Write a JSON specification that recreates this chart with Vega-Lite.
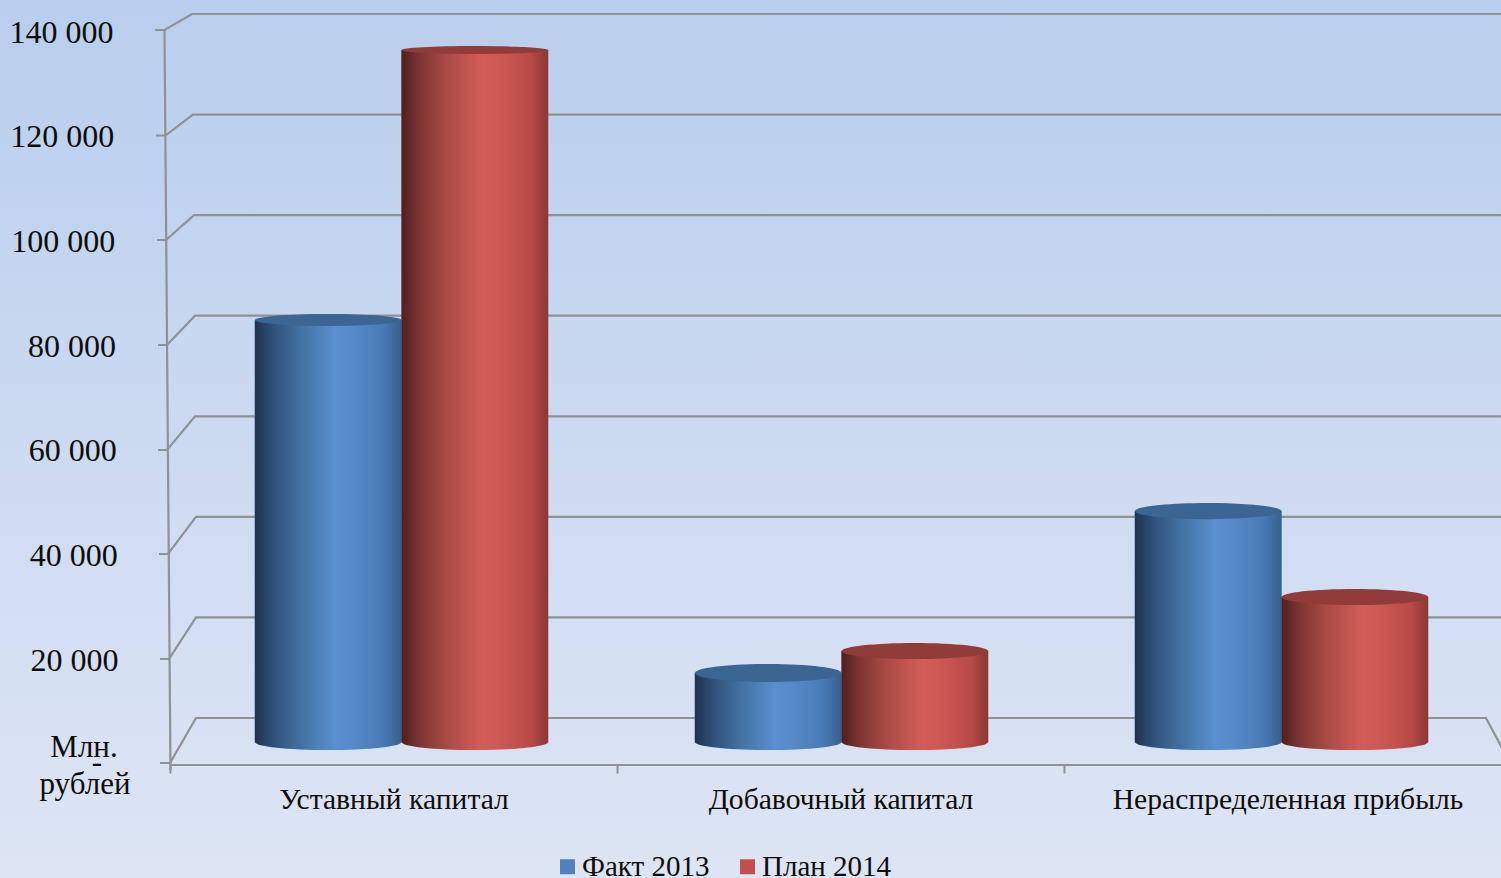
{
"$schema":"https://vega.github.io/schema/vega-lite/v6.json",
"width":1501,"height":878,"padding":0,"autosize":"none",
"background":"#dde5f4",
"config":{"view":{"stroke":null},"font":"Liberation Serif"},
"datasets":{
"bars":[
{"category":"Уставный капитал","series":"Факт 2013","value":82060,"top":"a"},
{"category":"Уставный капитал","series":"План 2014","value":134560,"top":"b"},
{"category":"Добавочный капитал","series":"Факт 2013","value":13400,"top":"c"},
{"category":"Добавочный капитал","series":"План 2014","value":17700,"top":"d"},
{"category":"Нераспределенная прибыль","series":"Факт 2013","value":44900,"top":"e"},
{"category":"Нераспределенная прибыль","series":"План 2014","value":28200,"top":"e"}
],
"frame":[
{"id":"g140","gx":-15,"wall":136815},{"id":"g140","gx":-5.5,"wall":136815},{"id":"g140","gx":22,"wall":140000},{"id":"g140","gx":1341,"wall":140000},
{"id":"g120","gx":-14,"wall":115837},{"id":"g120","gx":-4.5,"wall":115837},{"id":"g120","gx":23,"wall":120000},{"id":"g120","gx":1341,"wall":120000},
{"id":"g100","gx":-13,"wall":95055},{"id":"g100","gx":-4,"wall":95055},{"id":"g100","gx":24,"wall":100000},{"id":"g100","gx":1341,"wall":100000},
{"id":"g80","gx":-12,"wall":74175},{"id":"g80","gx":-3,"wall":74175},{"id":"g80","gx":25,"wall":80000},{"id":"g80","gx":1341,"wall":80000},
{"id":"g60","gx":-12,"wall":53295},{"id":"g60","gx":-3,"wall":53295},{"id":"g60","gx":25,"wall":60000},{"id":"g60","gx":1341,"wall":60000},
{"id":"g40","gx":-11,"wall":32613},{"id":"g40","gx":-2,"wall":32613},{"id":"g40","gx":26,"wall":40000},{"id":"g40","gx":1341,"wall":40000},
{"id":"g20","gx":-10,"wall":11733},{"id":"g20","gx":-1,"wall":11733},{"id":"g20","gx":26,"wall":20000},{"id":"g20","gx":1341,"wall":20000},
{"id":"g0","gx":-10,"wall":-8949},{"id":"g0","gx":0,"wall":-8949},{"id":"g0","gx":26,"wall":0},{"id":"g0","gx":1316,"wall":0},{"id":"g0","gx":1341,"wall":-9346},
{"id":"axis","gx":-5.5,"wall":136815},{"id":"axis","gx":0.5,"wall":-10341},
{"id":"front","gx":0,"wall":-9346},{"id":"front","gx":1341,"wall":-9346}
],
"notes":[
{"label":"Млн.","gx":-86,"wall":-7755},
{"label":"-","gx":-73,"wall":-10739},
{"label":"рублей","gx":-85,"wall":-15113}
]
},
"resolve":{"scale":{"x":"independent","y":"independent"}},
"layer":[
{"data":{"values":[{}]},
 "mark":{"type":"rect","color":{"gradient":"linear","x1":0,"y1":0,"x2":0,"y2":1,"stops":[{"offset":0,"color":"#b8ceec"},{"offset":0.5,"color":"#ccdaf1"},{"offset":1,"color":"#dde5f4"}]}},
 "encoding":{}},
{"data":{"name":"frame"},
 "mark":{"type":"line","color":"#8e9195","strokeWidth":2.2,"clip":true},
 "encoding":{
  "x":{"field":"gx","type":"quantitative","scale":{"domain":[0,1341],"range":[170,1511],"nice":false,"zero":false},"axis":null},
  "y":{"field":"wall","type":"quantitative","scale":{"domain":[0,140000],"range":[718,14],"nice":false,"zero":false},"axis":null},
  "detail":{"field":"id"}}},
{"data":{"name":"notes"},
 "mark":{"type":"text","fontSize":31,"color":"#0d0d0d","align":"center","baseline":"alphabetic","font":"Liberation Serif"},
 "encoding":{
  "x":{"field":"gx","type":"quantitative","scale":{"domain":[0,1341],"range":[170,1511],"nice":false,"zero":false},"axis":null},
  "y":{"field":"wall","type":"quantitative","scale":{"domain":[0,140000],"range":[718,14],"nice":false,"zero":false},"axis":null},
  "text":{"field":"label"}}},
{"data":{"name":"bars"},
 "mark":{"type":"point","opacity":0},
 "encoding":{
  "x":{"field":"category","type":"nominal","sort":null,"title":null,
   "scale":{"type":"band","domain":["Уставный капитал","Добавочный капитал","Нераспределенная прибыль"],"range":[170,1511],"paddingInner":0,"paddingOuter":0},
   "axis":{"orient":"bottom","offset":-113,"zindex":1,"domain":false,"tickBand":"extent","tickSize":8,"tickWidth":2,"tickColor":"#8e9195","labelAngle":0,"labelFontSize":29.6,"labelFont":"Liberation Serif","labelColor":"#0d0d0d","labelPadding":12,"labelLimit":0}},
  "y":{"field":"value","type":"quantitative","title":null,
   "scale":{"domain":[0,140000],"range":[765,32],"nice":false},
   "axis":{"orient":"left","offset":-113,"zindex":1,"domain":false,"ticks":false,"grid":false,"values":[20000,40000,60000,80000,100000,120000,140000],"labelExpr":"replace(format(datum.value,','),',',' ')","labelFontSize":32,"labelFont":"Liberation Serif","labelColor":"#0d0d0d","labelPadding":0,"labelLimit":0,"encoding":{"labels":{"dx":{"value":{"expr":"(140000-datum.value)/120000*5"}}}}}}}},
{"data":{"name":"bars"},
 "mark":{"type":"bar"},
 "encoding":{
  "x":{"field":"category","type":"nominal","sort":null,"scale":{"type":"band","domain":["Уставный капитал","Добавочный капитал","Нераспределенная прибыль"],"range":[181.5,1501.5],"paddingInner":0,"paddingOuter":0},"axis":null},
  "xOffset":{"field":"series","type":"nominal","scale":{"domain":["Факт 2013","План 2014"],"paddingInner":0,"paddingOuter":0.5}},
  "y":{"field":"value","type":"quantitative","stack":null,"scale":{"domain":[0,140000],"range":[742,22],"nice":false},"axis":null},
  "color":{"field":"series","type":"nominal","title":null,
   "scale":{"domain":["Факт 2013","План 2014"],"range":["#4f81bd","#c0504d"]},
   "legend":{"orient":"none","legendX":553,"legendY":852,"direction":"horizontal","columns":2,"padding":0,"symbolType":"square","symbolSize":225,"symbolStrokeWidth":0,"symbolOpacity":1,"labelFontSize":29,"labelFont":"Liberation Serif","labelColor":"#0d0d0d","labelOffset":0,"columnPadding":23,"labelLimit":0}}}},
{"data":{"name":"bars"},
 "transform":[{"filter":"datum.series=='Факт 2013'"}],
 "mark":{"type":"point","filled":true,"opacity":1,"strokeWidth":0,"shape":"M-1,0A1,0.11 0 1,1 1,0A1,0.11 0 1,1 -1,0Z","size":21510,
  "fill":{"gradient":"linear","x1":0,"y1":0,"x2":1,"y2":0,"stops":[{"offset":0,"color":"#1f3350"},{"offset":0.12,"color":"#2f5079"},{"offset":0.3,"color":"#41709f"},{"offset":0.55,"color":"#5a8fd0"},{"offset":0.65,"color":"#578bca"},{"offset":0.88,"color":"#487ab4"},{"offset":1,"color":"#34618f"}]}},
 "encoding":{
  "x":{"field":"category","type":"nominal","sort":null,"scale":{"type":"band","domain":["Уставный капитал","Добавочный капитал","Нераспределенная прибыль"],"range":[181.5,1501.5],"paddingInner":0,"paddingOuter":0},"axis":null},
  "xOffset":{"field":"series","type":"nominal","scale":{"domain":["Факт 2013","План 2014"],"paddingInner":0,"paddingOuter":0.5}},
  "y":{"datum":0,"type":"quantitative","scale":{"domain":[0,140000],"range":[742,22],"nice":false},"axis":null}}},
{"data":{"name":"bars"},
 "transform":[{"filter":"datum.series=='Факт 2013'"}],
 "mark":{"type":"bar",
  "fill":{"gradient":"linear","x1":0,"y1":0,"x2":1,"y2":0,"stops":[{"offset":0,"color":"#1f3350"},{"offset":0.12,"color":"#2f5079"},{"offset":0.3,"color":"#41709f"},{"offset":0.55,"color":"#5a8fd0"},{"offset":0.65,"color":"#578bca"},{"offset":0.88,"color":"#487ab4"},{"offset":1,"color":"#34618f"}]}},
 "encoding":{
  "x":{"field":"category","type":"nominal","sort":null,"scale":{"type":"band","domain":["Уставный капитал","Добавочный капитал","Нераспределенная прибыль"],"range":[181.5,1501.5],"paddingInner":0,"paddingOuter":0},"axis":null},
  "xOffset":{"field":"series","type":"nominal","scale":{"domain":["Факт 2013","План 2014"],"paddingInner":0,"paddingOuter":0.5}},
  "y":{"field":"value","type":"quantitative","stack":null,"scale":{"domain":[0,140000],"range":[742,22],"nice":false},"axis":null}}},
{"data":{"name":"bars"},
 "transform":[{"filter":"datum.series=='План 2014'"}],
 "mark":{"type":"point","filled":true,"opacity":1,"strokeWidth":0,"shape":"M-1,0A1,0.11 0 1,1 1,0A1,0.11 0 1,1 -1,0Z","size":21510,
  "fill":{"gradient":"linear","x1":0,"y1":0,"x2":1,"y2":0,"stops":[{"offset":0,"color":"#4e1f1f"},{"offset":0.12,"color":"#7c3431"},{"offset":0.3,"color":"#a84a45"},{"offset":0.55,"color":"#d35d57"},{"offset":0.65,"color":"#cf5a55"},{"offset":0.88,"color":"#b84a47"},{"offset":1,"color":"#8b3834"}]}},
 "encoding":{
  "x":{"field":"category","type":"nominal","sort":null,"scale":{"type":"band","domain":["Уставный капитал","Добавочный капитал","Нераспределенная прибыль"],"range":[181.5,1501.5],"paddingInner":0,"paddingOuter":0},"axis":null},
  "xOffset":{"field":"series","type":"nominal","scale":{"domain":["Факт 2013","План 2014"],"paddingInner":0,"paddingOuter":0.5}},
  "y":{"datum":0,"type":"quantitative","scale":{"domain":[0,140000],"range":[742,22],"nice":false},"axis":null}}},
{"data":{"name":"bars"},
 "transform":[{"filter":"datum.series=='План 2014'"}],
 "mark":{"type":"bar",
  "fill":{"gradient":"linear","x1":0,"y1":0,"x2":1,"y2":0,"stops":[{"offset":0,"color":"#4e1f1f"},{"offset":0.12,"color":"#7c3431"},{"offset":0.3,"color":"#a84a45"},{"offset":0.55,"color":"#d35d57"},{"offset":0.65,"color":"#cf5a55"},{"offset":0.88,"color":"#b84a47"},{"offset":1,"color":"#8b3834"}]}},
 "encoding":{
  "x":{"field":"category","type":"nominal","sort":null,"scale":{"type":"band","domain":["Уставный капитал","Добавочный капитал","Нераспределенная прибыль"],"range":[181.5,1501.5],"paddingInner":0,"paddingOuter":0},"axis":null},
  "xOffset":{"field":"series","type":"nominal","scale":{"domain":["Факт 2013","План 2014"],"paddingInner":0,"paddingOuter":0.5}},
  "y":{"field":"value","type":"quantitative","stack":null,"scale":{"domain":[0,140000],"range":[742,22],"nice":false},"axis":null}}},
{"data":{"name":"bars"},
 "mark":{"type":"point","filled":true,"opacity":1,"strokeWidth":0,"size":21510},
 "encoding":{
  "x":{"field":"category","type":"nominal","sort":null,"scale":{"type":"band","domain":["Уставный капитал","Добавочный капитал","Нераспределенная прибыль"],"range":[181.5,1501.5],"paddingInner":0,"paddingOuter":0},"axis":null},
  "xOffset":{"field":"series","type":"nominal","scale":{"domain":["Факт 2013","План 2014"],"paddingInner":0,"paddingOuter":0.5}},
  "y":{"field":"value","type":"quantitative","stack":null,"scale":{"domain":[0,140000],"range":[742,22],"nice":false},"axis":null},
  "shape":{"field":"top","type":"nominal","legend":null,"scale":{"domain":["a","b","c","d","e"],"range":["M-1,0A1,0.082 0 1,1 1,0A1,0.082 0 1,1 -1,0Z","M-1,0A1,0.055 0 1,1 1,0A1,0.055 0 1,1 -1,0Z","M-1,0A1,0.123 0 1,1 1,0A1,0.123 0 1,1 -1,0Z","M-1,0A1,0.11 0 1,1 1,0A1,0.11 0 1,1 -1,0Z","M-1,0A1,0.11 0 1,1 1,0A1,0.11 0 1,1 -1,0Z"]}},
  "fill":{"condition":{"test":"datum.series=='Факт 2013'","value":"#3b6593"},"value":"#923c3a"}}}
]
}
